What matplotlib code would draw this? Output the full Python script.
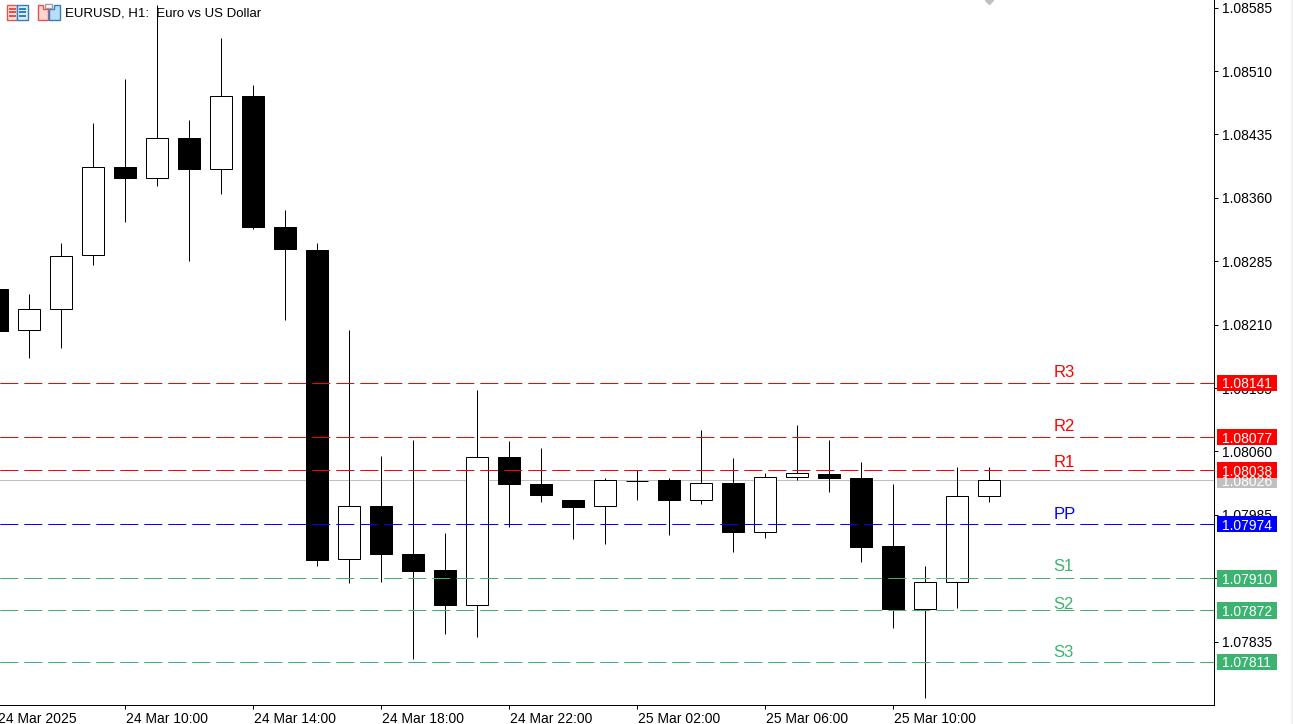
import matplotlib
matplotlib.use("Agg")
import matplotlib.pyplot as plt
import numpy as np
from matplotlib.patches import Polygon, Rectangle
from matplotlib.transforms import ScaledTranslation

plt.rcParams["font.family"] = ["Liberation Sans", "DejaVu Sans"]

W, H = 1293, 724

# candles, 1 hour each, first bar is 24 Mar 06:00
opens = [1.08252, 1.08204, 1.08229, 1.08292, 1.08397, 1.08383, 1.08431, 1.08394,
         1.08480, 1.08325, 1.08298, 1.07933, 1.07996, 1.07939, 1.07920, 1.07878,
         1.08053, 1.08022, 1.08003, 1.07995, 1.08025, 1.08026, 1.08003, 1.08023,
         1.07965, 1.08030, 1.08033, 1.08029, 1.07948, 1.07873, 1.07906, 1.08007]
highs = [1.08252, 1.08246, 1.08307, 1.08449, 1.08500, 1.08588, 1.08452, 1.08549,
         1.08494, 1.08346, 1.08307, 1.08204, 1.08054, 1.08074, 1.07964, 1.08133,
         1.08072, 1.08064, 1.08003, 1.08029, 1.08038, 1.08029, 1.08085, 1.08052,
         1.08035, 1.08091, 1.08073, 1.08047, 1.08022, 1.07925, 1.08042, 1.08042]
lows = [1.08203, 1.08170, 1.08182, 1.08280, 1.08331, 1.08374, 1.08285, 1.08365,
        1.08323, 1.08215, 1.07925, 1.07904, 1.07906, 1.07815, 1.07844, 1.07840,
        1.07971, 1.08000, 1.07956, 1.07950, 1.08003, 1.07961, 1.07998, 1.07941,
        1.07957, 1.08026, 1.08012, 1.07929, 1.07851, 1.07768, 1.07875, 1.08000]
closes = [1.08203, 1.08228, 1.08291, 1.08397, 1.08383, 1.08431, 1.08394, 1.08480,
          1.08326, 1.08299, 1.07931, 1.07996, 1.07939, 1.07919, 1.07878, 1.08053,
          1.08022, 1.08008, 1.07994, 1.08026, 1.08025, 1.08002, 1.08023, 1.07965,
          1.08030, 1.08034, 1.08028, 1.07947, 1.07873, 1.07906, 1.08007, 1.08026]

level_names = ["R3", "R2", "R1", "PP", "S1", "S2", "S3"]
level_values = [1.08141, 1.08077, 1.08038, 1.07974, 1.07910, 1.07872, 1.07811]
last_price = 1.08026

price_ticks = [1.08585, 1.08510, 1.08435, 1.08360, 1.08285, 1.08210, 1.08135,
               1.08060, 1.07985, 1.07910, 1.07835]
time_tick_bars = [0, 4, 8, 12, 16, 20, 24, 28]
time_labels = ["24 Mar 2025", "24 Mar 10:00", "24 Mar 14:00", "24 Mar 18:00",
               "24 Mar 22:00", "25 Mar 02:00", "25 Mar 06:00", "25 Mar 10:00"]

RED = "#FF0000"
BLUE = "#0000FF"
GREEN = "#3CB371"
GREY = "#C0C0C0"
level_colors = [RED, RED, RED, BLUE, GREEN, GREEN, GREEN]
label_offsets = [6, 6, 3, 5, 7, 1.5, 5]  # px above the line

AX_LEFT, AX_W, AX_H = -3.5, 1217, 705
Y_MIN, Y_MAX = 1.07760, 1.08594

fig = plt.figure(figsize=(W / 100, H / 100), dpi=100, facecolor="white")
# axes starts just off the left edge so the first bar and tick sit where they do
ax = fig.add_axes([AX_LEFT / W, 19 / H, AX_W / W, AX_H / H])
ax.set_xlim(0, AX_W / 32)
ax.set_ylim(Y_MIN, Y_MAX)

LW = 0.72  # one pixel
x = np.arange(len(opens))
for i in x:
    o, h, l, c = opens[i], highs[i], lows[i], closes[i]
    ax.vlines(i, l, h, color="black", lw=LW, zorder=2)
    if abs(o - c) < 0.00002:
        ax.hlines(o, i - 11 / 32, i + 11 / 32, color="black", lw=LW, zorder=3)
        continue
    bull = c > o
    ax.bar(i, abs(c - o), bottom=min(o, c), width=22 / 32,
           facecolor="white" if bull else "black", edgecolor="black", lw=LW, zorder=3)

# the last price line runs behind the candles, the levels in front
ax.axhline(last_price, color=GREY, lw=LW, zorder=1.5)
for name, val, col, off in zip(level_names, level_values, level_colors, label_offsets):
    ax.axhline(val, color=col, lw=LW, linestyle=(23.2, (18, 6)), zorder=4)
    ax.annotate(name, (33.04, val), xytext=(0, off * 0.72), textcoords="offset points",
                color=col, fontsize=12, va="baseline", ha="left", zorder=5)

# small grey marker on the top edge above the last bar
ax.plot([31], [Y_MAX], marker="D", ms=4, color=GREY, mec=GREY, zorder=5)

for s in ["left", "top"]:
    ax.spines[s].set_visible(False)
for s in ["right", "bottom"]:
    ax.spines[s].set_linewidth(LW)

ax.yaxis.tick_right()
ax.set_yticks(price_ticks)
ax.set_yticklabels([f"{p:.5f}" for p in price_ticks])
ax.tick_params(axis="y", length=3, width=LW, pad=3, labelsize=10)
ax.set_xticks(time_tick_bars)
ax.set_xticklabels(time_labels, ha="left")
ax.tick_params(axis="x", length=3, width=LW, pad=2, labelsize=10)
nudge = ScaledTranslation(1 / 100, 0, fig.dpi_scale_trans)
for lab in ax.get_xticklabels():
    lab.set_transform(lab.get_transform() + nudge)

# price tags on the scale, grey one first since the red one covers it
box_tf = ax.get_yaxis_transform()
box_x = (1217 - AX_LEFT) / AX_W
box_w = 60 / AX_W
box_h = 16.7 / AX_H * (Y_MAX - Y_MIN)
tags = [(last_price, GREY)] + list(zip(level_values, level_colors))
for val, col in tags:
    ax.add_patch(Rectangle((box_x, val - box_h / 2), box_w, box_h, transform=box_tf,
                           facecolor=col, edgecolor="none", clip_on=False, zorder=6))
    ax.text(box_x + 4.7 / AX_W, val, f"{val:.5f}", transform=box_tf, color="white",
            fontsize=10, va="center_baseline", ha="left", zorder=7, clip_on=False)

# title and the two small toolbar icons
fig.text(65 / W, 1 - 17 / H, "EURUSD, H1:  Euro vs US Dollar", fontsize=9.5, color="black",
         va="baseline", ha="left")


def px_rect(x0, y0, w, h, fc, ec="none", lw=0.75):
    fig.add_artist(Rectangle((x0 / W, 1 - (y0 + h) / H), w / W, h / H, transform=fig.transFigure,
                             facecolor=fc, edgecolor=ec, lw=lw))


def px_poly(pts, fc, ec, lw=1.0):
    fig.add_artist(Polygon([(a / W, 1 - b / H) for a, b in pts], closed=True,
                           transform=fig.transFigure, facecolor=fc, edgecolor=ec, lw=lw))


ICON_RED = "#E5534B"
ICON_BLUE = "#2F7FC1"
px_rect(6.5, 4.5, 10.5, 15, "#FDE3E0", ICON_RED, 1.0)
px_rect(17, 4.5, 10.5, 15, "#DCEBF8", ICON_BLUE, 1.0)
for yy in [8, 11.5, 15]:
    px_rect(8.5, yy, 7, 1.5, ICON_RED)
    px_rect(18.5, yy, 7, 1.5, ICON_BLUE)
px_poly([(38, 5), (43, 5), (43, 9), (48, 9), (48, 19.5), (38, 19.5)], "#FDD5D0", ICON_RED)
px_poly([(49, 9), (54, 9), (54, 5), (59.5, 5), (59.5, 19.5), (49, 19.5)], "#BBDDF5", ICON_BLUE)
px_rect(45, 3.5, 7, 4, "white", "#A0A0A0", 1.0)

# thin strip of the window frame on the right
px_rect(1291, 0, 2, H, "#F0F0F0")

fig.savefig("out.png", dpi=100)
